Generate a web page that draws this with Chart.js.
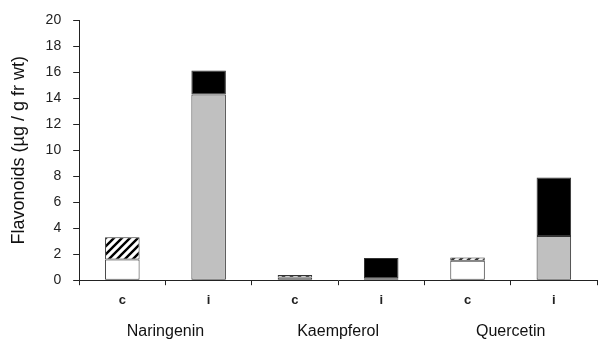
<!DOCTYPE html>
<html><head><meta charset="utf-8">
<script src="https://cdn.jsdelivr.net/npm/chart.js@4/dist/chart.umd.min.js"></script>
<style>html,body{margin:0;padding:0;background:#fff}#wrap{width:598px;height:348px}</style>
</head><body><div id="wrap"><canvas id="c"></canvas></div>
<script>
const barLabels = ['c','i','c','i','c','i'];
const groupLabels = ['Naringenin','Kaempferol','Quercetin'];
const whiteVals   = [1.6, null, 0.2, null, 1.5, null];
const hatchVals   = [1.7, null, 0.2, null, 0.25, null];
const grayVals    = [null, 14.3, null, 0.15, null, 3.4];
const blackVals   = [null, 1.85, null, 1.55, null, 4.5];
const yTicks = [0,2,4,6,8,10,12,14,16,18,20];

function hatchPattern(){
  const c=document.createElement('canvas'); c.width=c.height=8;
  const g=c.getContext('2d');
  g.fillStyle='#fff'; g.fillRect(0,0,8,8);
  g.strokeStyle='#000'; g.lineWidth=2.4; g.beginPath();
  g.moveTo(-2,10); g.lineTo(10,-2);
  g.moveTo(-2,2); g.lineTo(2,-2);
  g.moveTo(6,10); g.lineTo(10,6);
  g.stroke();
  return document.getElementById('c').getContext('2d').createPattern(c,'repeat');
}
const font = {family:'"Liberation Sans", Arial, sans-serif'};
const common = {borderColor:'#333', borderWidth:1, borderSkipped:false, categoryPercentage:1, barPercentage:0.4};
new Chart(document.getElementById('c'), {
  type:'bar',
  data:{labels:barLabels, datasets:[
    {data:whiteVals, backgroundColor:'#ffffff', ...common},
    {data:hatchVals, backgroundColor:hatchPattern(), ...common},
    {data:grayVals, backgroundColor:'#c0c0c0', ...common},
    {data:blackVals, backgroundColor:'#000000', ...common}
  ]},
  options:{
    responsive:true, maintainAspectRatio:false, animation:false,
    layout:{padding:{top:16,right:1,left:8,bottom:0}},
    plugins:{legend:{display:false}, tooltip:{enabled:false}},
    scales:{
      x:{stacked:true, offset:true,
        grid:{offset:true, drawOnChartArea:false, tickLength:5, color:'#222'},
        border:{color:'#222', width:1},
        ticks:{color:'#222', font:{...font, size:13, weight:'bold'}, padding:7}},
      x2:{type:'category', labels:groupLabels, position:'bottom', offset:true,
        grid:{display:false, drawTicks:false, tickLength:0}, border:{display:false},
        ticks:{color:'#111', font:{...font, size:16}, padding:7}},
      y:{stacked:true, min:0, max:20,
        afterBuildTicks:(s)=>{s.ticks=yTicks.map(v=>({value:v}));},
        grid:{drawOnChartArea:false, tickLength:6, color:'#222'},
        border:{color:'#222', width:1},
        ticks:{color:'#222', font:{...font, size:14}, padding:12},
        title:{display:true, text:'Flavonoids (µg / g fr wt)', color:'#111', font:{...font, size:18}, padding:{top:0,bottom:4}}}
    }
  }
});
</script></body></html>
